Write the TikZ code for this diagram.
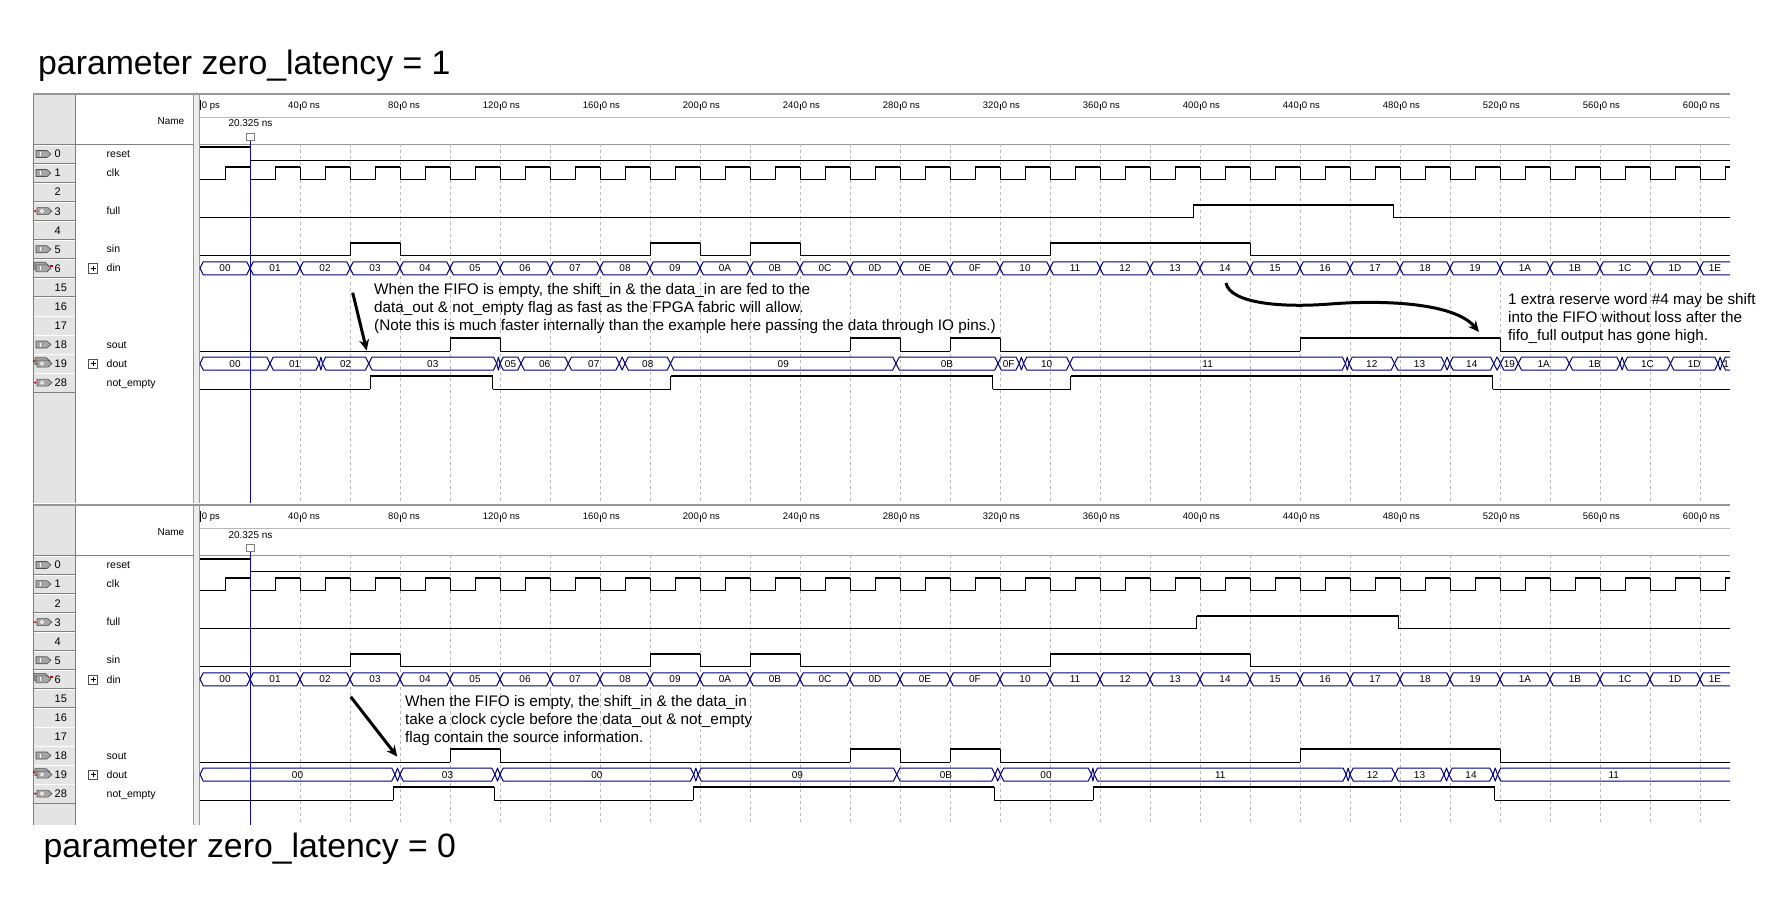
\documentclass[tikz,border=0pt]{standalone}
\usepackage{fontspec}
\setmainfont{Liberation Sans}
\usepackage{tikz}
\usetikzlibrary{arrows.meta}
\definecolor{busblue}{RGB}{0,0,128}
\definecolor{cursorblue}{RGB}{0,0,255}
\definecolor{gridgray}{RGB}{185,185,185}
\definecolor{colgray}{RGB}{228,228,228}
\definecolor{sepgray}{RGB}{236,236,236}
\definecolor{cellshade}{RGB}{128,128,128}
\definecolor{framegray}{RGB}{150,150,150}
\definecolor{pinfill}{RGB}{165,165,165}
\definecolor{pinedge}{RGB}{80,80,80}
\definecolor{pinred}{RGB}{220,0,0}
\tikzset{
  sighi/.style={draw=black, line width=2pt},
  siglo/.style={draw=black, line width=1pt},
  bus/.style={draw=busblue, line width=1pt, line join=round},
  busval/.style={font=\fontsize{10}{10}\selectfont, inner sep=0pt, text height=7pt, text depth=0pt},
  signame/.style={font=\fontsize{10.5}{12}\selectfont, anchor=base west, inner sep=0pt},
  rownum/.style={font=\fontsize{11}{12}\selectfont, anchor=base west, inner sep=0pt},
  headtext/.style={font=\fontsize{10}{12}\selectfont, inner sep=0pt},
  rulerlbl/.style={font=\fontsize{9.5}{10}\selectfont, inner sep=0pt},
  rulertick/.style={draw=black, line width=0.8pt},
  gridln/.style={draw=gridgray, line width=0.8pt, dash pattern=on 3pt off 3pt},
  cursorln/.style={draw=cursorblue, line width=1.3pt},
  notetext/.style={font=\fontsize{15.3}{18}\selectfont, align=left, inner sep=0pt, anchor=north west},
  paneltitle/.style={font=\fontsize{33.8}{40}\selectfont, inner sep=0pt, anchor=base west},
  notearrow/.style={-{Stealth[length=11pt, width=10pt]}, line width=3pt, draw=black}
}

% pin icons of the left column
\newcommand{\pinshape}[2]{\filldraw[fill=pinfill, draw=pinedge, line width=0.6pt]
  (#1,#2-3.5) -- (#1+11,#2-3.5) -- (#1+15,#2) -- (#1+11,#2+3.5) -- (#1,#2+3.5) -- cycle;}
\newcommand{\plusbox}[1]{\filldraw[fill=white, draw=pinedge, line width=0.6pt] (88.5,#1-4.5) rectangle (97.5,#1+4.5);
  \draw[black, line width=0.8pt] (90.5,#1) -- (95.5,#1) (93,#1-2.5) -- (93,#1+2.5);}
\newcommand{\iconin}[1]{\pinshape{36}{#1}\draw[white, line width=1pt] (40,#1-2) -- (40,#1+2);}
\newcommand{\iconout}[1]{\pinshape{37}{#1}\draw[white, line width=0.8pt] (42,#1) circle (1.6);
  \fill[pinred] (35.2,#1) circle (1.2);}
\newcommand{\iconinbus}[1]{\pinshape{34}{#1-2.5}\pinshape{36}{#1}\draw[white, line width=1pt] (40,#1-2) -- (40,#1+2);
  \fill[pinred] (49.5,#1-3) rectangle (53,#1-1.5);\plusbox{#1}}
\newcommand{\iconoutbus}[1]{\pinshape{35}{#1-2.5}\pinshape{37}{#1}\draw[white, line width=0.8pt] (42,#1) circle (1.6);
  \fill[pinred] (34,#1-2.5) circle (1.2);\plusbox{#1}}
\newcommand{\iconnone}[1]{}

% one bit signal: row y, start level, toggle times (last = end)
\newcommand{\bitsig}[3]{%
  \foreach \t [count=\k, remember=\t as \tp (initially 0)] in {#3} {
    \pgfmathtruncatemacro\lv{mod(#2+\k-1,2)}
    \ifnum\lv=1 \draw[sighi] (\tp,#1-6.5) -- (\t,#1-6.5);
    \else \draw[siglo] (\tp,#1+6.5) -- (\t,#1+6.5);\fi
    \ifnum\k>1 \draw[siglo] (\tp,#1-6.5) -- (\tp,#1+6.5);\fi
  }}
\newcommand{\clocksig}[1]{%
  \foreach \k in {0,...,30} {
    \pgfmathsetmacro\ta{20*\k}
    \draw[siglo] (\ta,#1+6.5) -- (\ta+10,#1+6.5) -- (\ta+10,#1-6.5);
    \draw[sighi] (\ta+10,#1-6.5) -- ({min(\ta+20,612)},#1-6.5);
    \ifnum\k<30 \draw[siglo] (\ta+20,#1-6.5) -- (\ta+20,#1+6.5);\fi
  }}
% one bus value: node name, row y, start, end, value
\newcommand{\busseg}[5]{%
  \pgfmathsetmacro\dd{min(1.3,(#4-#3)/2)}
  \pgfmathtruncatemacro\isopen{#4>611}
  \ifnum\isopen=1
    \draw[bus] (#4,#2-6.5) -- (#3+\dd,#2-6.5) -- (#3,#2) -- (#3+\dd,#2+6.5) -- (#4,#2+6.5);
  \else
    \draw[bus] (#3,#2) -- (#3+\dd,#2-6.5) -- (#4-\dd,#2-6.5) -- (#4,#2) -- (#4-\dd,#2+6.5) -- (#3+\dd,#2+6.5) -- cycle;
  \fi
  \node[busval] (#1) at ({(#3+#4)/2},#2) {#5};}
\newcommand{\bussig}[3]{\foreach \ta/\tb/\v [count=\k] in {#3} {\busseg{#1\k}{#2}{\ta}{\tb}{\v}}}

% simulator window: columns, ruler, grid and the input signals
\newcommand{\waveframe}[2]{%
  \fill[colgray] (33,93) rectangle (75,#2);
  \fill[sepgray] (193,93) rectangle (200,#2);
  \draw[framegray] (193.5,93) -- (193.5,#2) (199.5,93) -- (199.5,#2);
  \draw[cellshade] (75.5,93) -- (75.5,#2) (33.5,93) -- (33.5,#2);
  \draw[framegray, line width=2pt] (33,94) -- (1730,94);
  \draw[cellshade] (33,144) -- (193,144);
  \draw[framegray] (200,144) -- (1730,144);
  \draw[gridgray] (200,117.5) -- (1730,117.5);
  \node[headtext, anchor=base east] (#1name) at (184.5,124.5) {Name};
  % rows
  \foreach \n/\lab/\ic [count=\i from 0] in {0/reset/in, 1/clk/in, 2/{}/none, 3/full/out, 4/{}/none,
      5/sin/in, 6/din/inbus, 15/{}/none, 16/{}/none, 17/{}/none, 18/sout/in, 19/dout/outbus, 28/not\_empty/out} {
    \pgfmathsetmacro\ry{154+19.05*\i}
    \draw[white] (34,\ry-9) -- (74.5,\ry-9);
    \draw[cellshade] (33.5,\ry+9.3) -- (75,\ry+9.3);
    \node[rownum] (#1num\i) at (54.5,\ry+3.9) {\n};
    \node[signame] (#1sig\i) at (106.5,\ry+3.7) {\lab};
    \csname icon\ic\endcsname{\ry}
  }
  \begin{scope}[shift={(200,0)}, x=2.5pt]
    \foreach \t in {20,40,...,600} \draw[gridln] (\t,144) -- (\t,#2);
    % time ruler
    \draw[rulertick] (0,100) -- (0,110.5);
    \node[rulerlbl, anchor=base west] (#1zero) at (0.7,108.5) {0 ps};
    \foreach \t in {40,80,...,600} {
      \draw[rulertick] (\t,104) -- (\t,110.5);
      \node[rulerlbl, anchor=base east] (#1tl\t) at (\t-0.4,108.5) {\t};
      \node[rulerlbl, anchor=base west] (#1tr\t) at (\t-0.4,108.5) {.0 ns};
    }
    \bitsig{154}{1}{20.325,612}
    \clocksig{173.05}
    \bitsig{249.25}{0}{60,80,180,200,220,240,340,420,612}
    \foreach \v [count=\k from 0] in {00,01,02,03,04,05,06,07,08,09,0A,0B,0C,0D,0E,0F,
        10,11,12,13,14,15,16,17,18,19,1A,1B,1C,1D,1E} {
      \pgfmathsetmacro\ta{20*\k}
      \pgfmathsetmacro\tb{min(20*\k+20,612)}
      \busseg{#1din\k}{268.3}{\ta}{\tb}{\v}
    }
    \bitsig{344.5}{0}{100,120,260,280,300,320,440,520,612}
  \end{scope}}
\newcommand{\wavecursor}[2]{%
  \draw[cursorln] (250.8,141) -- (250.8,#2);
  \filldraw[fill=white, draw=cellshade, line width=0.8pt] (246.8,133.5) rectangle (254.3,140.5);
  \node[headtext, anchor=base] (#1cur) at (250.5,127) {20.325 ns};}

\begin{document}
\begin{tikzpicture}[x=1pt, y=-1pt]
  \useasboundingbox (0,0) rectangle (1770,920);
  \fill[white] (0,0) rectangle (1770,920);

  % zero latency run
  \node[paneltitle] (titleA) at (38,75) {parameter zero\_latency = 1};
  \waveframe{a}{503}
  \begin{scope}[shift={(200,0)}, x=2.5pt]
    \bitsig{211.15}{0}{397.3,477.5,612}
    \bussig{adout}{363.55}{0/28/00, 28/47.7/01, 47.7/49/{}, 49/67.5/02, 67.5/118.7/03, 118.7/120/{},
      120/128.4/05, 128.4/147.3/06, 147.3/167.7/07, 167.7/170/{}, 170/188.2/08, 188.2/278.4/09,
      278.4/319.2/0B, 319.2/327.7/0F, 327.7/329.4/{}, 329.4/347.9/10, 347.9/458.2/11, 458.2/459.6/{},
      459.6/477.8/12, 477.8/497.8/13, 497.8/499.9/{}, 499.9/517.5/14, 517.5/520.2/{}, 520.2/527.3/19,
      527.3/547.7/1A, 547.7/568/1B, 568/569.7/{}, 569.7/588.2/1C, 588.2/607.2/1D, 607.2/608.9/{}, 608.9/612/1}
    \bitsig{382.6}{0}{68,117,188.3,317,348.2,517,612}
  \end{scope}
  \wavecursor{a}{503}

  % one clock of latency
  \begin{scope}[shift={(0,411)}]
    \waveframe{b}{414}
    \begin{scope}[shift={(200,0)}, x=2.5pt]
      \bitsig{211.15}{0}{398.6,479.5,612}
      \bussig{bdout}{363.55}{0/78/00, 78/80/{}, 80/118/03, 118/120/{}, 120/197.5/00, 197.5/199.2/{},
        199.2/278.7/09, 278.7/318/0B, 318/320.2/{}, 320.2/356.6/00, 356.6/357.7/{}, 357.7/458.5/11,
        458.5/460/{}, 460/478/12, 478/497.6/13, 497.6/499.6/{}, 499.6/517.2/14, 517.2/519/{}, 519/612/11}
      \bitsig{382.6}{0}{77.3,117.7,197.3,317.7,357.3,517.8,612}
    \end{scope}
    \wavecursor{b}{414}
  \end{scope}
  \node[paneltitle] (titleB) at (43.5,857.5) {parameter zero\_latency = 0};

  % notes
  \node[notetext] (noteA) at (374,283) {When the FIFO is empty, the shift\_in \& the data\_in are fed to the\\
    data\_out \& not\_empty flag as fast as the FPGA fabric will allow.\\
    (Note this is much faster internally than the example here passing the data through IO pins.)};
  \node[notetext] (noteB) at (1508,293) {1 extra reserve word \#4 may be shift\\
    into the FIFO without loss after the\\fifo\_full output has gone high.};
  \node[notetext] (noteC) at (405,695) {When the FIFO is empty, the shift\_in \& the data\_in\\
    take a clock cycle before the data\_out \& not\_empty\\flag contain the source information.};
  \coordinate (arrAs) at (352.7,292.7);
  \coordinate (arrAe) at (366.7,350.5);
  \coordinate (arrBs) at (350.7,696.7);
  \coordinate (arrBe) at (397.3,756.7);
  \coordinate (curvS) at (1226,283);
  \coordinate (curvM) at (1330,304);
  \coordinate (curvE) at (1479,332);
  \draw[notearrow] (arrAs) -- (arrAe);
  \draw[notearrow] (arrBs) -- (arrBe);
  \draw[notearrow] (curvS) .. controls +(4,20) and +(-50,4) .. (curvM) .. controls +(50,-4) and +(-25,-30) .. (curvE);
\end{tikzpicture}
\end{document}
